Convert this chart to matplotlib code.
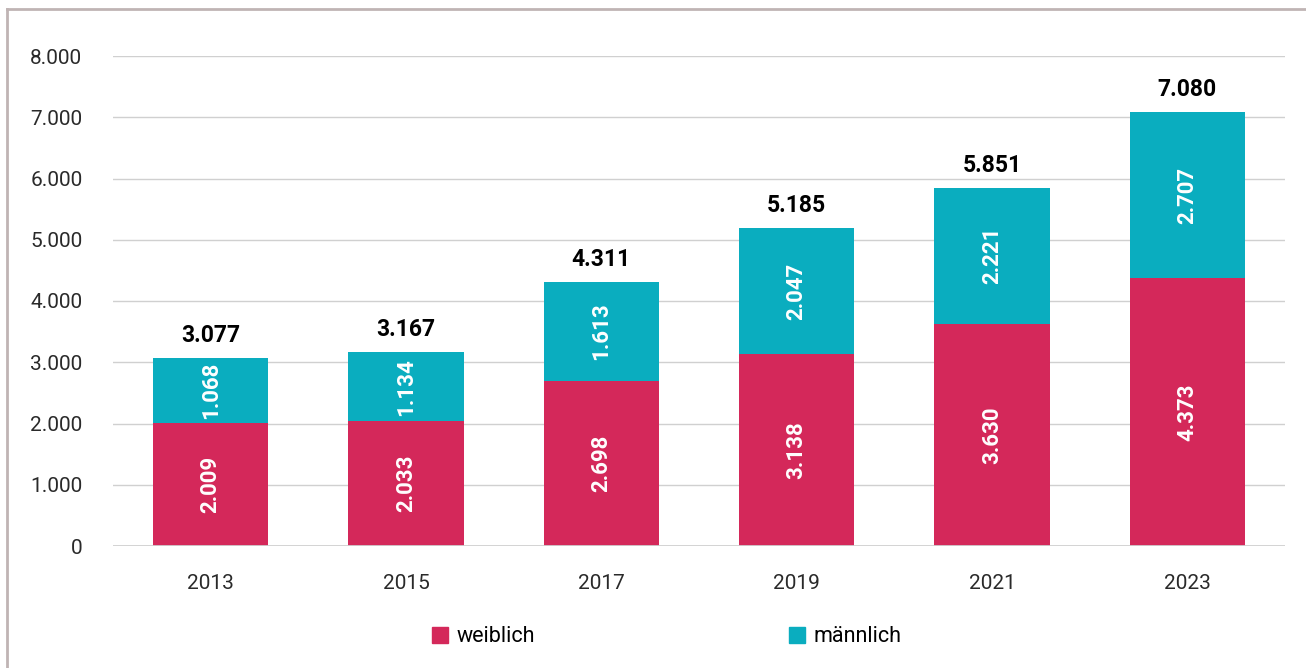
import matplotlib.pyplot as plt
from matplotlib.lines import Line2D
from matplotlib.patches import Patch

years = ['2013', '2015', '2017', '2019', '2021', '2023']
weiblich = [2009, 2033, 2698, 3138, 3630, 4373]
maennlich = [1068, 1134, 1613, 2047, 2221, 2707]
totals = [3077, 3167, 4311, 5185, 5851, 7080]

pink = '#D4285A'
teal = '#0AADBF'
fam = ['Roboto', 'DejaVu Sans']

def de(v):
    return f'{v:,}'.replace(',', '.')

fig = plt.figure(figsize=(13.06, 6.68), dpi=100)
ax = fig.add_axes([113 / 1306, 1 - 546 / 668, 1172 / 1306, 490 / 668])

x = range(len(years))
ax.bar(x, weiblich, width=0.59, color=pink, zorder=3)
ax.bar(x, maennlich, width=0.59, bottom=weiblich, color=teal, zorder=3)

for i in x:
    ax.text(i, weiblich[i] / 2, de(weiblich[i]), rotation=90, ha='center', va='center',
            color='white', fontsize=16, fontweight='bold', family=fam)
    ax.text(i, weiblich[i] + maennlich[i] / 2, de(maennlich[i]), rotation=90, ha='center',
            va='center', color='white', fontsize=16, fontweight='bold', family=fam)
    ax.annotate(de(totals[i]), (i, totals[i]), xytext=(0, 11.5), textcoords='offset points',
                ha='center', va='baseline', color='black', fontsize=16.5, fontweight='bold',
                family=fam, annotation_clip=False)

ax.set_xlim(-0.5, 5.5)
ax.set_ylim(0, 8000)
ax.set_yticks(range(0, 8001, 1000))
ax.set_yticklabels([de(v) for v in range(0, 8001, 1000)], family=fam, fontsize=15,
                   color='#2a2a2a')
ax.set_xticks(list(x))
ax.set_xticklabels(years, family=fam, fontsize=15, color='#2a2a2a')
ax.tick_params(length=0)
ax.tick_params(axis='y', pad=22)
ax.tick_params(axis='x', pad=20)
ax.grid(axis='y', color='#D0D0D0', lw=1, zorder=0)
for s in ax.spines.values():
    s.set_visible(False)
ax.axhline(0, color='#D0D0D0', lw=2, zorder=4)

prop = {'family': fam, 'size': 15.5}
for lab, col, px in [('weiblich', pink, 432), ('männlich', teal, 789)]:
    fig.legend([Patch(color=col)], [lab], loc='center left',
               bbox_to_anchor=(px / 1306, 1 - 637 / 668), frameon=False,
               handlelength=0.75, handleheight=0.75, handletextpad=0.4,
               borderpad=0, borderaxespad=0, prop=prop)

# outer frame (left and top)
fig.add_artist(Line2D([7 / 1306, 7 / 1306], [0, 1 - 9 / 668], color='#C0B4B4', lw=2))
fig.add_artist(Line2D([7 / 1306, 1], [1 - 9 / 668, 1 - 9 / 668], color='#C0B4B4', lw=2))

fig.savefig('out.png', dpi=100)
